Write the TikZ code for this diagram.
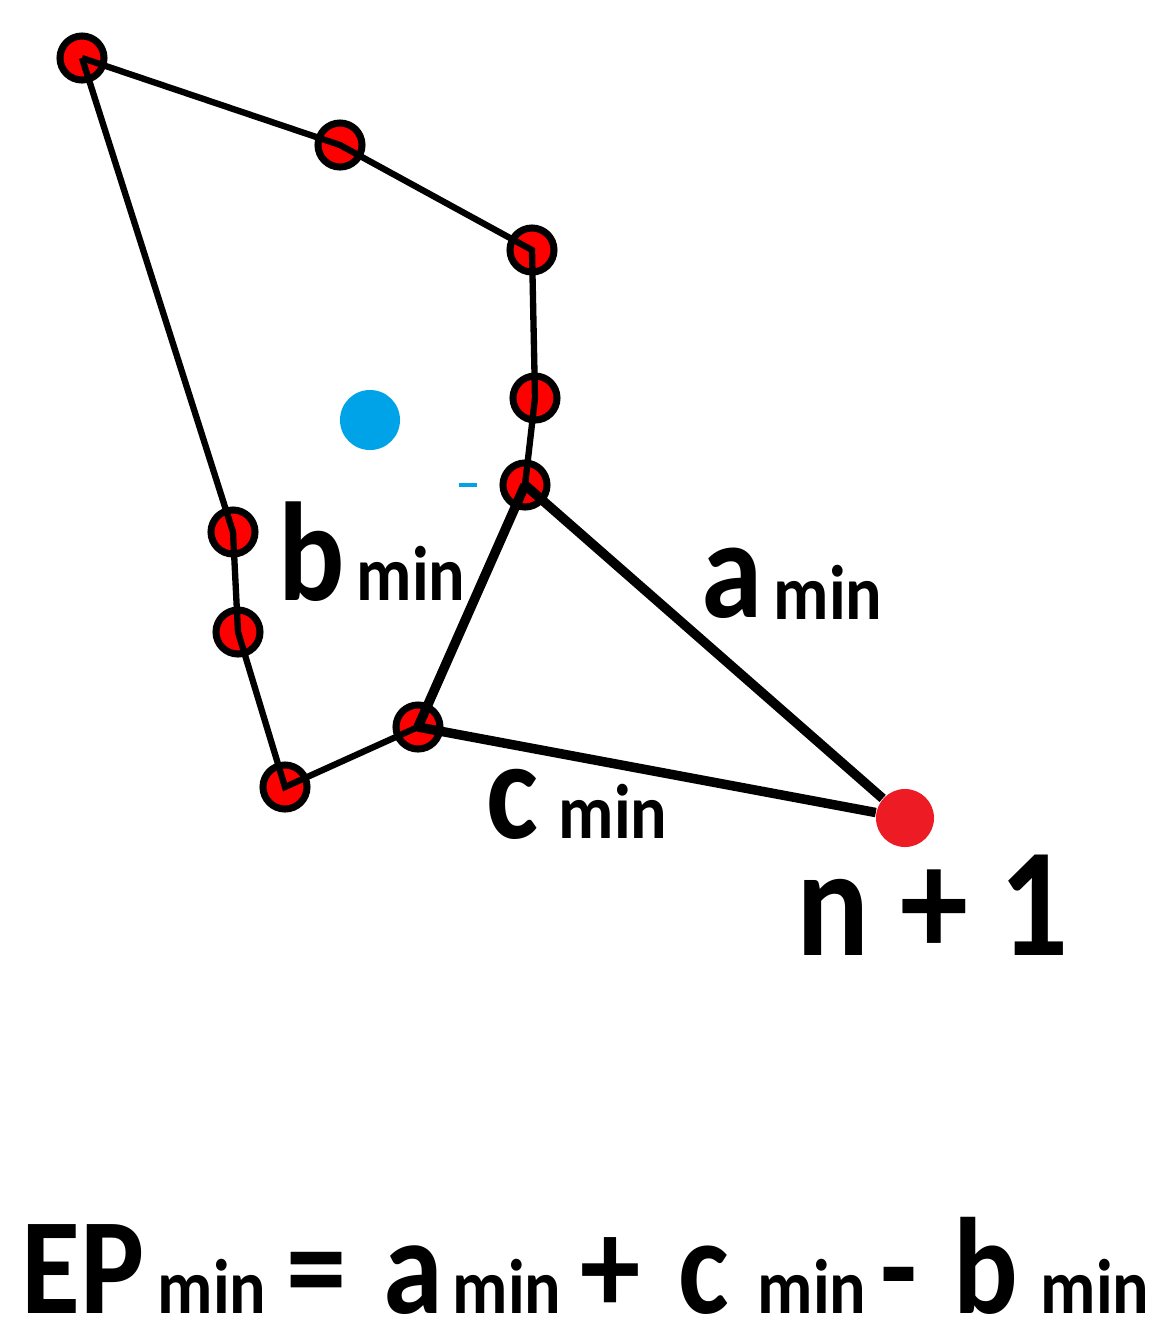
\documentclass[tikz,border=0pt]{standalone}
\usepackage{fontspec}
\usepackage{tikz}
\usetikzlibrary{positioning}
\newfontfamily\lblfont{Carlito}[FakeStretch=0.88]
\definecolor{ptred}{RGB}{255,0,0}
\definecolor{newred}{RGB}{237,28,36}
\definecolor{ctrblue}{RGB}{0,162,232}

\begin{document}
\begin{tikzpicture}[x=0.01cm, y=-0.01cm,
  vtx/.style={circle, draw=black, line width=2pt, fill=ptred,
              minimum size=0.44cm, inner sep=0pt},
  side/.style={line width=1.8pt},
  tri/.style={line width=2.7pt},
  lbl/.style={font=\lblfont\bfseries\fontsize{#1}{#1}\selectfont,
              inner sep=0pt, anchor=base west},
  lbl/.default=39,
  sub/.style={lbl=22},
]
\useasboundingbox (0,0) rectangle (1168,1344);

% hull points
\node[vtx] (p1) at (82,58)   {};
\node[vtx] (p2) at (340,145) {};
\node[vtx] (p3) at (532,250) {};
\node[vtx] (p4) at (535,398) {};
\node[vtx] (p5) at (525,485) {};
\node[vtx] (p6) at (233,532) {};
\node[vtx] (p7) at (238,632) {};
\node[vtx] (p8) at (285,787) {};
\node[vtx] (p9) at (418,727) {};

% new point and centre
\node[circle, fill=newred, minimum size=0.58cm, inner sep=0pt] (nx) at (905,818) {};
\node[circle, fill=ctrblue, minimum size=0.6cm, inner sep=0pt] (ctr) at (370,420) {};
\draw[ctrblue, line width=1.2pt] (459,485) -- (477,485);

% hull
\draw[side] (p1.center) -- (p2.center) -- (p3.center) -- (p4.center) -- (p5.center);
\draw[side] (p1.center) -- (p6.center) -- (p7.center) -- (p8.center) -- (p9.center);
% triangle
\draw[tri] (p9.center) -- (p5.center);
\draw[tri] (p5.center) -- (nx);
\draw[tri] (p9.center) -- (nx);

% edge labels
\node[lbl=40] (lb)  at (278,600) {b};
\node[sub]    (lbs) at (356,600) {min};
\node[lbl=40] (la)  at (701,617) {a};
\node[sub]    (las) at (773,619) {min};
\node[lbl=40] (lc)  at (486,838) {c};
\node[sub]    (lcs) at (558,838) {min};
\node[lbl=44] (ln)  at (796,955) {n + 1};

% formula
\node[lbl]    (ep)  at (21,1313)   {EP};
\node[sub=23] (eps) at (157,1313)  {min};
\node[lbl]    (eq)  at (286,1313)  {=};
\node[lbl]    (fa)  at (383,1313)  {a};
\node[sub]    (fas) at (452,1313)  {min};
\node[lbl]    (pl)  at (580,1313)  {+};
\node[lbl]    (fc)  at (678,1313)  {c};
\node[sub]    (fcs) at (757,1313)  {min};
\node[lbl]    (mi)  at (880,1313)  {-};
\node[lbl]    (fb)  at (953,1313)  {b};
\node[sub]    (fbs) at (1040,1313) {min};
\end{tikzpicture}
\end{document}
